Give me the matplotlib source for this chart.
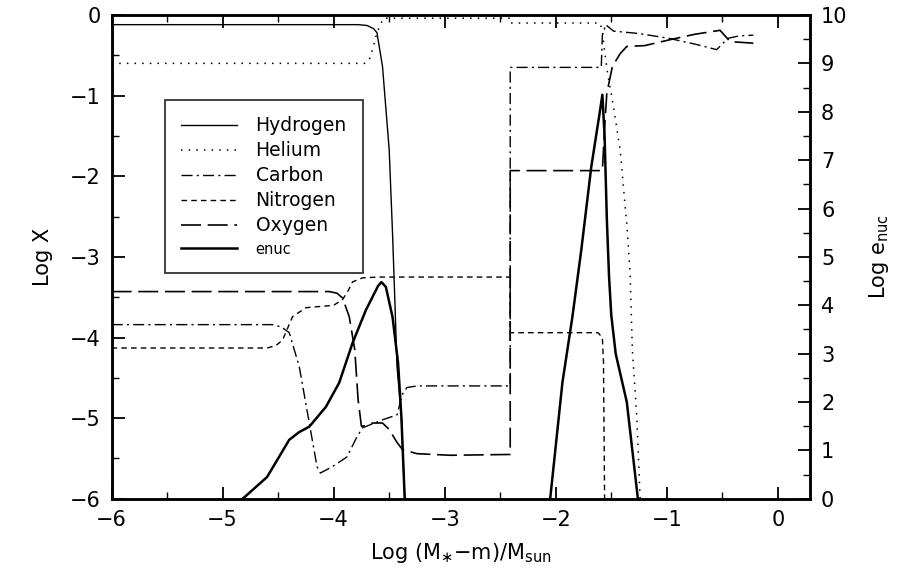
import numpy as np
import matplotlib
matplotlib.use("Agg")
import matplotlib.pyplot as plt
from matplotlib.ticker import MultipleLocator

# abundance profiles, Log X versus Log (M*-m)/Msun
H_x = [-6.0, -3.78, -3.70, -3.64, -3.61, -3.56, -3.50, -3.47, -3.45, -3.43, -3.39, -3.36]
H_y = [-0.12, -0.12, -0.13, -0.17, -0.22, -0.64, -1.67, -2.70, -3.50, -4.35, -4.98, -6.0]

He_x = [-6.0, -3.72, -3.68, -3.65, -3.62, -3.59, -3.55, -2.41, -2.41, -1.60, -1.58, -1.56,
        -1.53, -1.49, -1.42, -1.36, -1.33, -1.31, -1.27, -1.24]
He_y = [-0.6, -0.6, -0.56, -0.43, -0.27, -0.15, -0.04, -0.04, -0.1, -0.1, -0.2, -0.45,
        -0.75, -1.05, -1.67, -2.6, -3.2, -4.15, -4.98, -6.0]

C_x = [-6.0, -4.55, -4.47, -4.40, -4.31, -4.23, -4.15, -4.12, -4.01, -3.88, -3.79, -3.74,
       -3.56, -3.43, -3.38, -3.34, -3.25, -2.41, -2.41, -1.59, -1.58, -1.55, -1.48, -1.25,
       -0.98, -0.75, -0.55, -0.45, -0.35, -0.22]
C_y = [-3.84, -3.84, -3.87, -3.94, -4.36, -4.98, -5.6, -5.68, -5.6, -5.48, -5.23, -5.12,
       -5.02, -4.96, -4.70, -4.62, -4.60, -4.60, -0.65, -0.65, -0.25, -0.12, -0.2, -0.23,
       -0.29, -0.36, -0.43, -0.29, -0.26, -0.25]

N_x = [-6.0, -4.60, -4.52, -4.46, -4.37, -4.25, -4.0, -3.92, -3.87, -3.83, -3.74, -3.6,
       -2.41, -2.41, -1.62, -1.58, -1.57, -1.56]
N_y = [-4.13, -4.13, -4.10, -4.03, -3.74, -3.63, -3.6, -3.53, -3.42, -3.31, -3.26, -3.25,
       -3.25, -3.94, -3.94, -4.0, -4.3, -6.0]

O_x = [-6.0, -4.04, -3.97, -3.92, -3.86, -3.81, -3.78, -3.75, -3.70, -3.65, -3.56, -3.50,
       -3.43, -3.38, -3.25, -2.95, -2.41, -2.41, -1.58, -1.56, -1.54, -1.49, -1.42, -1.36,
       -1.2, -0.95, -0.75, -0.52, -0.43, -0.22]
O_y = [-3.43, -3.43, -3.45, -3.51, -3.74, -4.15, -4.77, -5.10, -5.09, -5.06, -5.06, -5.14,
       -5.30, -5.39, -5.44, -5.46, -5.45, -1.93, -1.93, -1.4, -0.97, -0.64, -0.48, -0.39,
       -0.38, -0.30, -0.24, -0.19, -0.33, -0.35]

# nuclear energy generation, Log enuc (right axis), two burning shells
E_x = [-4.82, -4.6, -4.4, -4.31, -4.22, -4.07, -3.95, -3.83, -3.71, -3.60, -3.57, -3.53,
       -3.47, -3.42, -3.39, -3.36, np.nan,
       -2.05, -1.94, -1.85, -1.77, -1.68, -1.60, -1.58, -1.56, -1.54, -1.52, -1.50, -1.46,
       -1.40, -1.36, -1.31, -1.26]
E_y = [0, 0.45, 1.22, 1.38, 1.49, 1.9, 2.4, 3.22, 3.9, 4.4, 4.48, 4.38,
       3.76, 2.81, 1.69, 0, np.nan,
       0, 2.4, 3.76, 5.14, 6.86, 8.04, 8.35, 7.5, 5.8, 4.6, 3.8, 3.0,
       2.4, 2.0, 1.0, 0]

plt.rcParams["font.family"] = "DejaVu Sans"

fig = plt.figure(figsize=(9, 5.76), dpi=100)
ax = fig.add_axes([0.124, 0.134, 0.776, 0.84])
ax2 = ax.twinx()

k = "black"
l1, = ax.plot(H_x, H_y, color=k, lw=1.0, label="Hydrogen")
l2, = ax.plot(He_x, He_y, color=k, lw=1.1, linestyle=(0, (1, 4)), label="Helium")
l3, = ax.plot(C_x, C_y, color=k, lw=1.0, linestyle=(0, (8, 3, 1.5, 3)), label="Carbon")
l4, = ax.plot(N_x, N_y, color=k, lw=1.0, linestyle=(0, (4, 3)), label="Nitrogen")
l5, = ax.plot(O_x, O_y, color=k, lw=1.2, linestyle=(0, (12, 4)), label="Oxygen")
l6, = ax2.plot(E_x, E_y, color=k, lw=1.8, label="enuc")

ax.set_xlim(-6, 0.29)
ax.set_ylim(-6, 0)
ax2.set_ylim(0, 10)

ax.xaxis.set_major_locator(MultipleLocator(1))
ax.xaxis.set_minor_locator(MultipleLocator(0.5))
ax.yaxis.set_major_locator(MultipleLocator(1))
ax.yaxis.set_minor_locator(MultipleLocator(0.5))
ax2.yaxis.set_major_locator(MultipleLocator(1))
ax2.yaxis.set_minor_locator(MultipleLocator(0.5))

ax.tick_params(which="both", direction="in", top=True, right=False, labelsize=15, pad=8)
ax.tick_params(which="major", length=9, width=1.3)
ax.tick_params(which="minor", length=5, width=1.0)
ax2.tick_params(which="both", direction="in", labelsize=15, pad=8)
ax2.tick_params(which="major", length=9, width=1.3)
ax2.tick_params(which="minor", length=5, width=1.0)

for a in (ax, ax2):
    for s in a.spines.values():
        s.set_linewidth(1.8)

ax.set_xlabel(r"Log (M$_{\ast}$$-$m)/M$_{\rm sun}$", fontsize=15, labelpad=8)
ax.set_ylabel("Log X", fontsize=15, labelpad=12)
ax2.set_ylabel(r"Log e$_{\rm nuc}$", fontsize=15, labelpad=14)

leg = ax2.legend(handles=[l1, l2, l3, l4, l5, l6], loc="upper left",
                 bbox_to_anchor=(0.076, 0.824), fontsize=13.5, handlelength=3.0,
                 handletextpad=1.0, labelspacing=0.32, borderpad=0.85,
                 frameon=True, fancybox=False, edgecolor="black", borderaxespad=0)
leg.get_frame().set_linewidth(1.3)
leg.get_texts()[-1].set_fontsize(10.5)

fig.savefig("out.png", dpi=100)
